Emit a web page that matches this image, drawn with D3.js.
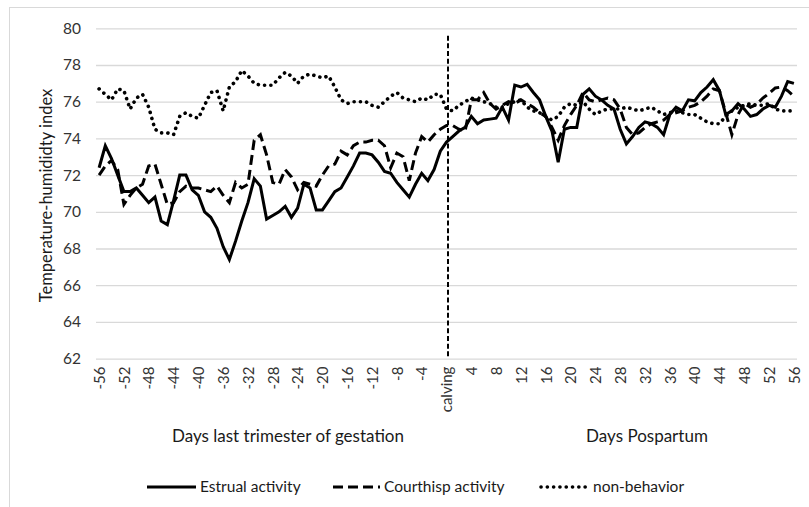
<!DOCTYPE html>
<html>
<head>
<meta charset="utf-8">
<script src="https://cdn.jsdelivr.net/npm/d3@7"></script>
<style>
  html, body { margin: 0; padding: 0; background: #fff; }
  svg { display: block; font-family: Lato, "Open Sans", sans-serif; }
</style>
</head>
<body>
<svg id="chart" width="809" height="507"></svg>
<script>
// ---- data ----
const days = d3.range(-56, 57);
const tickLabels = ["-56","-52","-48","-44","-40","-36","-32","-28","-24","-20","-16","-12","-8","-4","calving","4","8","12","16","20","24","28","32","36","40","44","48","52","56"];
const yTicks = [62, 64, 66, 68, 70, 72, 74, 76, 78, 80];

const estrual = [
  72.4,73.6,72.9,72.0,71.1,71.1,71.3,70.9,70.5,70.8,69.5,69.3,70.6,72.0,72.0,71.2,70.9,70.0,69.7,69.1,
  68.1,67.4,68.4,69.5,70.5,71.8,71.4,69.6,69.8,70.0,70.3,69.7,70.2,71.5,71.3,70.1,70.1,70.6,71.1,71.3,
  71.9,72.5,73.2,73.2,73.1,72.7,72.2,72.1,71.6,71.2,70.8,71.5,72.1,71.7,72.3,73.3,73.8,
  74.1,74.4,74.6,75.2,74.8,75.0,75.05,75.1,75.7,75.0,76.9,76.8,76.95,76.5,76.1,75.2,74.4,72.7,74.5,74.6,
  74.6,76.4,76.7,76.3,76.1,75.8,75.6,74.5,73.7,74.1,74.6,74.9,74.8,74.6,74.2,75.3,75.7,75.5,76.1,76.05,
  76.5,76.8,77.2,76.6,75.3,75.5,75.9,75.6,75.2,75.3,75.6,75.8,75.7,76.3,77.1,77.0
];
const courthisp = [
  72.0,72.5,72.8,72.3,70.4,70.9,71.3,71.5,72.5,72.6,71.5,70.4,70.5,71.1,71.4,71.3,71.3,71.2,71.1,71.4,
  70.9,70.5,71.6,71.3,71.5,73.9,74.2,73.1,71.6,71.5,72.3,71.9,71.2,71.6,71.5,71.4,72.0,72.5,72.6,73.3,
  73.1,73.6,73.8,73.8,73.9,73.9,73.6,72.4,73.2,73.0,71.7,73.2,74.1,73.8,74.2,74.5,74.7,
  74.7,74.5,74.4,76.1,76.1,76.5,75.9,75.6,75.8,76.0,75.9,76.1,75.9,75.7,75.4,75.2,74.6,73.9,74.7,75.3,
  75.8,76.5,76.1,76.0,76.1,76.2,76.1,75.6,74.6,74.2,74.3,74.6,74.8,74.9,75.0,75.3,75.4,75.5,75.7,75.8,
  76.0,76.3,76.7,76.6,75.4,74.2,75.3,75.9,75.7,75.85,76.2,76.45,76.75,76.8,76.6,76.3
];
const nonBehavior = [
  76.7,76.4,76.1,76.7,76.6,75.6,76.2,76.4,75.7,74.5,74.3,74.3,74.2,75.2,75.4,75.2,75.1,75.8,76.5,76.6,
  75.5,76.8,77.1,77.7,77.4,77.0,76.9,76.9,76.9,77.3,77.6,77.4,77.0,77.4,77.5,77.4,77.3,77.4,76.8,76.1,
  75.9,76.0,76.0,76.0,75.8,75.7,76.0,76.3,76.5,76.2,76.1,76.0,76.2,76.1,76.4,76.4,75.6,
  75.5,75.8,76.0,76.2,76.1,76.0,75.9,75.7,75.7,75.9,76.0,76.1,75.7,75.5,75.4,75.2,75.0,75.2,75.7,75.9,
  75.8,76.0,75.6,75.3,75.5,75.6,75.6,75.6,75.7,75.6,75.5,75.6,75.7,75.5,75.3,75.4,75.5,75.4,75.3,75.3,
  75.1,74.9,74.8,74.8,75.2,75.5,75.7,75.8,75.9,75.8,75.8,75.9,75.6,75.5,75.5,75.5
];
const seriesNames = ["Estrual activity", "Courthisp activity", "non-behavior"];
const xTitles = ["Days last trimester of gestation", "Days Pospartum"];
const yTitle = "Temperature-humididty index";

// ---- drawing ----
const svg = d3.select("#chart");
const plot = { left: 96, right: 797, top: 28.3, bottom: 358.6 };

svg.append("rect").attr("x", 9.5).attr("y", 7.5).attr("width", 820).attr("height", 520)
  .attr("fill", "none").attr("stroke", "#d9d9d9").attr("stroke-width", 1);

const x = d3.scalePoint().domain(days).range([plot.left, plot.right]).padding(0.5);
const y = d3.scaleLinear().domain([62, 80]).range([plot.bottom, plot.top]);

// gridlines
const yAxis = d3.axisLeft(y).tickValues(yTicks).tickSize(-(plot.right - plot.left)).tickPadding(15);
const gy = svg.append("g").attr("transform", `translate(${plot.left},0)`).call(yAxis);
gy.select(".domain").remove();
gy.selectAll(".tick line").attr("stroke", "#d9d9d9").attr("stroke-width", 1.3);
gy.selectAll(".tick text").attr("font-size", 15.5).attr("fill", "#333")
  .attr("font-family", "Lato, sans-serif");

// x axis labels (every 4th day)
const labelDays = days.filter(d => d % 4 === 0);
const xAxis = d3.axisBottom(x).tickValues(labelDays)
  .tickFormat((d, i) => tickLabels[i]).tickSize(0).tickPadding(0);
const gx = svg.append("g").attr("transform", `translate(0,${plot.bottom})`).call(xAxis);
gx.select(".domain").remove();
gx.selectAll(".tick text")
  .attr("transform", "rotate(-90)")
  .attr("x", -8).attr("y", 0).attr("dy", "0.35em")
  .attr("text-anchor", "end")
  .attr("font-size", 15).attr("fill", "#333")
  .attr("font-family", "Lato, sans-serif");

// calving line
svg.append("line")
  .attr("x1", x(0) + 1.5).attr("x2", x(0) + 1.5)
  .attr("y1", y(79.6)).attr("y2", y(62))
  .attr("stroke", "#000").attr("stroke-width", 2).attr("stroke-dasharray", "5,2.7");

const line = d3.line().x((d, i) => x(days[i])).y(d => y(d));
const styles = [
  { data: estrual, dash: null, cap: "butt" },
  { data: courthisp, dash: "10,5", cap: "butt" },
  { data: nonBehavior, dash: "0.1,6.2", cap: "round" }
];
styles.forEach(s => {
  svg.append("path").datum(s.data)
    .attr("d", line)
    .attr("fill", "none").attr("stroke", "#000")
    .attr("stroke-width", s.cap === "round" ? 3.6 : 3)
    .attr("stroke-linejoin", "miter")
    .attr("stroke-linecap", s.cap)
    .attr("stroke-dasharray", s.dash);
});

// axis titles
svg.append("text").attr("transform", `translate(46,${(plot.top + plot.bottom) / 2 + 2}) rotate(-90)`)
  .attr("text-anchor", "middle").attr("dy", "0.35em")
  .attr("font-size", 16.5).attr("fill", "#1a1a1a").text(yTitle);
svg.append("text").attr("x", 288).attr("y", 442).attr("text-anchor", "middle")
  .attr("font-size", 17).attr("fill", "#1a1a1a").text(xTitles[0]);
svg.append("text").attr("x", 647).attr("y", 442).attr("text-anchor", "middle")
  .attr("font-size", 17).attr("fill", "#1a1a1a").text(xTitles[1]);

// legend
const legendItems = [
  { x1: 147, x2: 196, tx: 200, dash: null, cap: "butt" },
  { x1: 333, x2: 380, tx: 384, dash: "10,5", cap: "butt" },
  { x1: 541, x2: 589, tx: 593, dash: "0.1,6.2", cap: "round" }
];
legendItems.forEach((l, i) => {
  svg.append("line").attr("x1", l.x1).attr("x2", l.x2).attr("y1", 487).attr("y2", 487)
    .attr("stroke", "#000").attr("stroke-width", l.cap === "round" ? 3.6 : 3)
    .attr("stroke-linecap", l.cap).attr("stroke-dasharray", l.dash);
  svg.append("text").attr("x", l.tx).attr("y", 487).attr("dy", "0.35em")
    .attr("font-size", 15.5).attr("fill", "#1a1a1a").text(seriesNames[i]);
});
</script>
</body>
</html>
